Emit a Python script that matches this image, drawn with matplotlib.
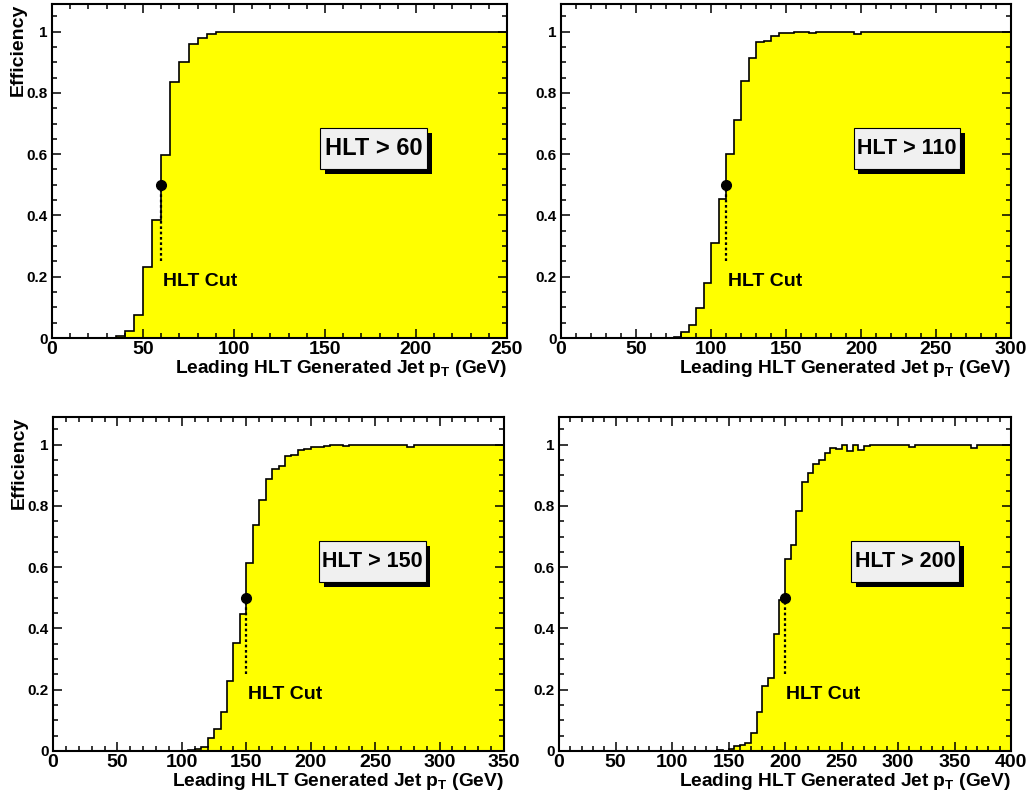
import numpy as np
import matplotlib
matplotlib.use('Agg')
import matplotlib.pyplot as plt
from matplotlib.patches import Rectangle
from matplotlib.ticker import MultipleLocator, FuncFormatter

plt.rcParams['font.family'] = ['Liberation Sans', 'DejaVu Sans']
plt.rcParams['font.weight'] = 'bold'
plt.rcParams['mathtext.fontset'] = 'custom'
plt.rcParams['mathtext.rm'] = 'Liberation Sans:bold'
plt.rcParams['mathtext.it'] = 'Liberation Sans:bold'
plt.rcParams['mathtext.bf'] = 'Liberation Sans:bold'

bin_width = 5  # GeV

# trigger efficiency per 5 GeV bin of leading generated jet pT, from 0 GeV
eff_60 = [
    0, 0, 0, 0, 0, 0, 0, 0.005, 0.022, 0.076,
    0.232, 0.385, 0.598, 0.836, 0.901, 0.960, 0.979, 0.993, 0.997, 0.998,
    0.999, 1, 1, 1, 1, 1, 1, 1, 1, 1,
    1, 1, 1, 1, 1, 1, 1, 1, 1, 1,
    1, 1, 1, 1, 1, 1, 1, 1, 1, 1,
]
eff_110 = [
    0, 0, 0, 0, 0, 0, 0, 0, 0, 0,
    0, 0, 0, 0, 0, 0.003, 0.018, 0.044, 0.097, 0.180,
    0.309, 0.455, 0.601, 0.711, 0.840, 0.915, 0.965, 0.970, 0.986, 0.994,
    0.996, 0.997, 0.999, 0.995, 0.999, 1, 1, 1, 1, 0.992,
    1, 1, 1, 1, 1, 1, 1, 1, 1, 1,
    1, 1, 1, 1, 1, 1, 1, 1, 1, 1,
]
eff_150 = [
    0, 0, 0, 0, 0, 0, 0, 0, 0, 0,
    0, 0, 0, 0, 0, 0, 0, 0, 0, 0,
    0, 0.003, 0.006, 0.012, 0.041, 0.073, 0.127, 0.229, 0.354, 0.447,
    0.614, 0.737, 0.820, 0.887, 0.921, 0.931, 0.962, 0.967, 0.983, 0.987,
    0.991, 0.993, 0.995, 0.997, 0.998, 0.996, 0.998, 0.999, 1, 1,
    1, 1, 1, 1, 1, 0.992, 1, 1, 1, 1,
    1, 1, 1, 1, 1, 1, 1, 1, 1, 1,
]
eff_200 = [
    0, 0, 0, 0, 0, 0, 0, 0, 0, 0,
    0, 0, 0, 0, 0, 0, 0, 0, 0, 0,
    0, 0, 0, 0, 0, 0, 0, 0, 0.002, 0.001,
    0.008, 0.015, 0.020, 0.025, 0.059, 0.126, 0.213, 0.239, 0.383, 0.492,
    0.627, 0.673, 0.783, 0.878, 0.908, 0.935, 0.949, 0.974, 0.989, 0.984,
    0.998, 0.979, 0.997, 0.983, 0.996, 0.997, 1, 0.999, 1, 1,
    1, 1, 0.993, 1, 1, 1, 1, 1, 1, 1,
    1, 1, 1, 0.988, 1, 1, 1, 1, 1, 1,
]

x_max = [250, 300, 350, 400]
hlt_cuts = [60, 110, 150, 200]
tags = ['HLT > 60', 'HLT > 110', 'HLT > 150', 'HLT > 200']
tag_sizes = [17, 15.5, 15.5, 15.5]
all_eff = [eff_60, eff_110, eff_150, eff_200]

W, H = 1032, 796
fig = plt.figure(figsize=(W / 100, H / 100), dpi=100)

# axes rectangles in pixels: left, top, right, bottom
rects_px = [(52, 4, 507, 338), (561, 4, 1011, 338),
            (53, 417, 504, 751), (559, 417, 1011, 751)]
# label box position in axes fraction (x0, y0, w, h)
boxes = [(0.59, 0.506, 0.234, 0.123), (0.65, 0.506, 0.237, 0.123),
         (0.59, 0.506, 0.236, 0.123), (0.647, 0.506, 0.237, 0.123)]

fmt = FuncFormatter(lambda v, p: '%g' % round(v, 3))

for i, (eff, xm, cut, tag, tsize) in enumerate(zip(all_eff, x_max, hlt_cuts, tags, tag_sizes)):
    l, t, r, b = rects_px[i]
    ax = fig.add_axes([l / W, 1 - b / H, (r - l) / W, (b - t) / H])

    edges = np.arange(len(eff) + 1) * bin_width
    ax.stairs(eff, edges, fill=True, color='#ffff00', zorder=1)
    ax.stairs(eff, edges, color='black', lw=1.2, zorder=2)

    # cut marker with dotted drop line
    ax.plot([cut, cut], [0.25, 0.49], color='black', lw=1.6,
            linestyle=(0, (1.2, 1.2)), zorder=3)
    ax.plot(cut, 0.5, 'o', color='black', ms=7, zorder=4)
    ax.text(cut + 1, 0.17, 'HLT Cut', fontsize=14, fontweight='bold',
            ha='left', va='baseline', zorder=4)

    # label box with drop shadow
    bx, by, bw, bh = boxes[i]
    ax.add_patch(Rectangle((bx + 0.011, by - 0.015), bw, bh, transform=ax.transAxes,
                           fc='black', ec='none', zorder=5))
    ax.add_patch(Rectangle((bx, by), bw, bh, transform=ax.transAxes,
                           fc='#f0f0f0', ec='black', lw=0.8, zorder=6))
    ax.text(bx + bw / 2, by + bh / 2, tag, transform=ax.transAxes,
            fontsize=tsize, fontweight='bold', ha='center', va='center', zorder=7)

    ax.set_xlim(0, xm)
    ax.set_ylim(0, 1.09)
    ax.xaxis.set_major_locator(MultipleLocator(50))
    ax.xaxis.set_minor_locator(MultipleLocator(10))
    ax.yaxis.set_major_locator(MultipleLocator(0.2))
    ax.yaxis.set_minor_locator(MultipleLocator(0.05))
    ax.xaxis.set_major_formatter(fmt)
    ax.yaxis.set_major_formatter(fmt)
    ax.tick_params(which='both', direction='in', top=True, right=True, width=1.1)
    ax.tick_params(which='major', length=6.5)
    ax.tick_params(which='minor', length=3.3)
    ax.tick_params(axis='x', labelsize=14, pad=2)
    ax.tick_params(axis='y', labelsize=11, pad=3)
    for s in ax.spines.values():
        s.set_linewidth(1.5)

    ax.set_xlabel(r'Leading HLT Generated Jet $p_{T}$ (GeV)', loc='right',
                  fontsize=13.8, fontweight='bold', labelpad=0)
    if i % 2 == 0:
        ax.set_ylabel('Efficiency', loc='top', fontsize=14, fontweight='bold', labelpad=0)

fig.savefig('out.png', dpi=100)
